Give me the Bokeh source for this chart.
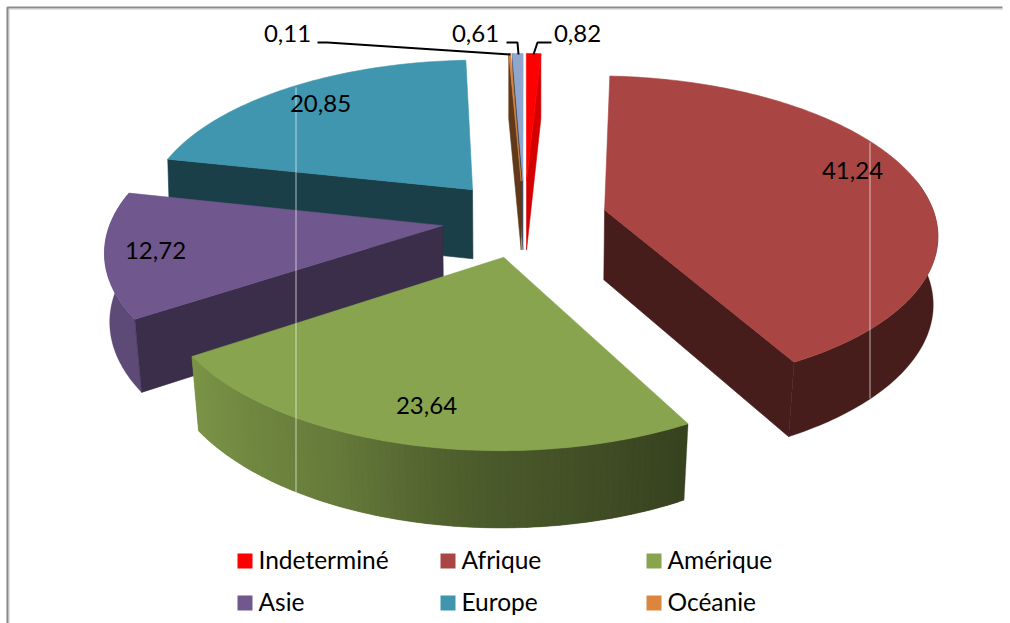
import numpy as np
from bokeh.plotting import figure
from bokeh.models import Range1d
from bokeh.core.properties import value
from bokeh.embed import file_html
from bokeh.resources import INLINE

# ---- data (clockwise from the top) ----
categories = ["Indeterminé", "Afrique", "Amérique", "Asie", "Europe", "Océanie", "Autre"]
shares = [0.82, 41.24, 23.64, 12.72, 20.85, 0.11, 0.61]
top_colors = ["#FF0000", "#A94543", "#88A44E", "#70588E", "#3F96AE", "#DD853C", "#8FA6CE"]
legend_names = ["Indeterminé", "Afrique", "Amérique", "Asie", "Europe", "Océanie"]

# ---- style / layout ----
FONT = "Lato"
FS = "24px"
LEG_FS = "24.5px"
CX, CY, RX, RY, K = 524.0, 218.0, 331.0, 154.8, 0.138
EXPLODE, DEPTH = 0.25, 70.0
radial_shade = {"Indeterminé": 0.83, "Afrique": 0.42, "Amérique": 0.42, "Asie": 0.52,
                "Europe": 0.42, "Océanie": 0.43, "Autre": 0.42}
outer_shade = {"Indeterminé": ([0, 360], [0.83, 0.83]),
               "Afrique": ([0, 360], [0.42, 0.42]),
               "Amérique": ([151, 185, 205, 236], [0.40, 0.57, 0.75, 0.90]),
               "Asie": ([0, 360], [0.84, 0.84]),
               "Europe": ([0, 360], [0.42, 0.42]),
               "Océanie": ([0, 360], [0.43, 0.43]),
               "Autre": ([0, 360], [0.42, 0.42])}
draw_order = ["Europe", "Asie", "Amérique", "Autre", "Océanie", "Indeterminé", "Afrique"]
label_pos = {"Indeterminé": (577, 33), "Afrique": (852, 170), "Amérique": (426, 405),
             "Asie": (155, 250), "Europe": (320, 103), "Océanie": (287, 33), "Autre": (475, 33)}
legend_cols = [237, 440, 646]
legend_rows = [560.5, 602.5]


def hexrgb(c):
    return tuple(int(c[i:i + 2], 16) for i in (1, 3, 5))


def shade(c, f):
    return "#%02x%02x%02x" % tuple(int(round(v * f)) for v in hexrgb(c))


def project(theta, r, mid, bottom=False):
    """Map a point of an exploded slice onto the picture with a slight perspective."""
    X = EXPLODE * np.sin(mid) + r * np.sin(theta)
    Y = EXPLODE * np.cos(mid) + r * np.cos(theta)
    s = 1.0 / (1.0 + K * Y)
    dx, dy = RX * X * s, -RY * Y * s
    if bottom:
        dx = dx * (0.99 - 0.08 * (s - 1))
        dy = dy + DEPTH * (1 + 0.5 * (s - 1))
    return CX + dx, CY + dy


p = figure(width=1010, height=623, output_backend="svg", toolbar_location=None,
           x_range=Range1d(0, 1010), y_range=Range1d(623, 0), min_border=0)
p.axis.visible = False
p.grid.visible = False
p.outline_line_color = None
p.background_fill_color = "white"
p.border_fill_color = "white"

fractions = np.array(shares) / np.sum(shares)
edges = np.concatenate([[0], np.cumsum(fractions)]) * 2 * np.pi
geom = {c: (edges[i], edges[i + 1]) for i, c in enumerate(categories)}
color_of = dict(zip(categories, top_colors))


def poly(xs, ys, color, lw=0.6):
    p.patch(xs, ys, fill_color=color, line_color=color, line_width=lw)


for name in draw_order:
    a0, a1 = geom[name]
    mid = (a0 + a1) / 2
    col = color_of[name]
    n = max(2, int(np.degrees(a1 - a0)) + 1)
    th = np.linspace(a0, a1, n + 1)
    # outer wall: one shape per shade, each shape overlapping the next one
    stops_a, stops_s = outer_shade[name]
    front = th[np.cos(th) < 0.2]
    if len(front) > 1:
        fs = np.interp(np.degrees(front), stops_a, stops_s)
        if stops_s[0] == stops_s[-1]:
            groups = [(front, fs[0])]
        else:
            groups = [(front[i:i + 3], fs[i]) for i in range(len(front) - 1)]
        for g, f in groups:
            t_pts = [project(t, 1, mid) for t in g]
            b_pts = [project(t, 1, mid, True) for t in g[::-1]]
            pts = t_pts + b_pts
            poly([q[0] for q in pts], [q[1] for q in pts], shade(col, f), lw=0.3)
    # radial walls, only those turned to the viewer
    wcol = shade(col, radial_shade[name])
    for t, visible in ((a0, np.sin(a0) < -1e-6), (a1, np.sin(a1) > 1e-6)):
        if visible:
            ax, ay = project(t, 0, mid)
            bx, by = project(t, 1, mid)
            cx, cy = project(t, 1, mid, True)
            dx, dy = project(t, 0, mid, True)
            poly([ax, bx, cx, dx], [ay, by, cy, dy], wcol)
    # top face
    ax, ay = project(a0, 0, mid)
    rim = [project(t, 1, mid) for t in th]
    poly([ax] + [q[0] for q in rim], [ay] + [q[1] for q in rim], col)

# thin light artefact lines of the picture
p.segment([295.5, 869.5], [87, 142], [295.5, 869.5], [492, 398], line_color="white",
          line_alpha=0.65, line_width=1)

# leader lines
p.multi_line([[317, 327, 510], [506, 517, 518], [551, 537, 533]],
             [[42, 42, 54], [42, 42, 54], [42, 42, 54]], line_color="black", line_width=2)

# value labels
for name, v in zip(categories, shares):
    lx, ly = label_pos[name]
    p.text([lx], [ly], text=[f"{v:.2f}".replace(".", ",")], text_font=value(FONT),
           text_font_size=value(FS), text_color="black", text_align="center",
           text_baseline="middle")

# legend
for i, name in enumerate(legend_names):
    lx = legend_cols[i % 3]
    ly = legend_rows[i // 3]
    p.rect([lx + 7.5], [ly], width=15, height=15, fill_color=color_of[name], line_color=None)
    p.text([lx + 21], [ly - 2], text=[name], text_font=value(FONT), text_font_size=value(LEG_FS),
           text_color="black", text_align="left", text_baseline="middle")

# chart frame
p.multi_line([[7, 7, 1002]], [[623, 7, 7]], line_color="#8C8C8C", line_width=2.2)
p.multi_line([[8.5, 8.5, 1002]], [[623, 8.5, 8.5]], line_color="#C4C4C4", line_width=1)

open("out.html", "w").write(file_html(p, INLINE))
